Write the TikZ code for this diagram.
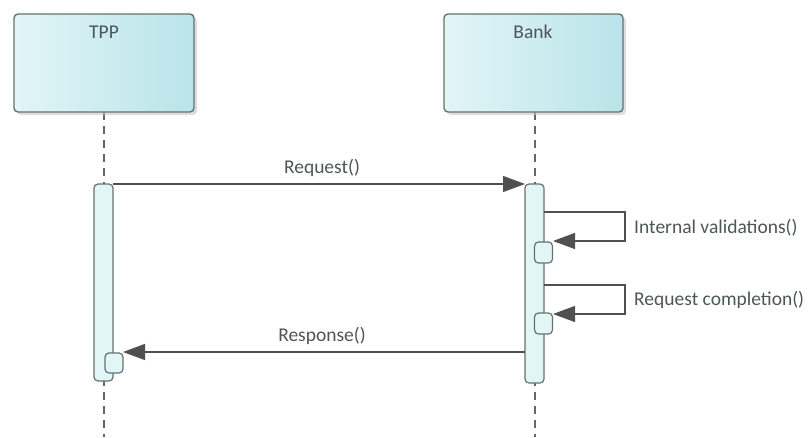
\documentclass[tikz,border=0pt]{standalone}
\usepackage{fontspec}
\setmainfont{Carlito}
\usetikzlibrary{arrows.meta,shadows}
\definecolor{boxl}{HTML}{E2F5F7}
\definecolor{boxr}{HTML}{B9E4E9}
\definecolor{edge}{HTML}{66716F}
\definecolor{txt}{HTML}{4E5658}
\definecolor{arr}{HTML}{505050}
\tikzset{
  x=1pt,y=-1pt,
  lifebox/.style={draw=edge,line width=1.4pt,rounded corners=4pt,left color=boxl,right color=boxr,
    drop shadow={shadow xshift=3pt,shadow yshift=-3pt,fill=gray!45,opacity=0.6}},
  actbox/.style={draw=edge,line width=1.2pt,rounded corners=4pt,fill=boxl},
  lifeline/.style={draw=gray!80!black,line width=1.2pt,dash pattern=on 8pt off 6pt},
  msg/.style={draw=arr,line width=1.2pt,-{Triangle[length=22pt,width=16pt]}},
  lbl/.style={text=txt,font=\fontsize{19.5}{22}\selectfont,inner sep=0pt},
}
\begin{document}
\begin{tikzpicture}
\useasboundingbox (0,0) rectangle (811,437);
% lifelines
\coordinate (tppb) at (104,112);
\coordinate (tppe) at (104,437);
\coordinate (bankb) at (535,112);
\coordinate (banke) at (535,437);
\draw[lifeline] (tppb) -- (tppe);
\draw[lifeline] (bankb) -- (banke);
% header boxes
\path[lifebox] (14,14) rectangle (194,112);
\path[lifebox] (444,14) rectangle (623,112);
\node[lbl] (tpp) at (104,32) {TPP};
\node[lbl] (bank) at (533,32) {Bank};
% activations
\draw[actbox] (94,184) rectangle (113,381);
\node[actbox,minimum width=18pt,minimum height=20pt,inner sep=0pt] (tppa) at (114,363) {};
\draw[actbox] (525,184) rectangle (544,383);
\node[actbox,minimum width=18pt,minimum height=21pt,inner sep=0pt] (ba1) at (543.5,252.5) {};
\node[actbox,minimum width=18pt,minimum height=21pt,inner sep=0pt] (ba2) at (543.5,323.5) {};
% messages
\coordinate (r1) at (113,184);
\coordinate (r2) at (525,184);
\draw[msg] (r1) -- (r2);
\node[lbl] (reql) at (322,168) {Request()};
\coordinate (s1a) at (544,212);
\coordinate (s1b) at (625,212);
\coordinate (s1c) at (625,241);
\coordinate (s1d) at (553,241);
\draw[msg] (s1a) -- (s1b) -- (s1c) -- (s1d);
\node[lbl,anchor=west] (ivl) at (634,228) {Internal validations()};
\coordinate (s2a) at (544,285);
\coordinate (s2b) at (625,285);
\coordinate (s2c) at (625,314);
\coordinate (s2d) at (553,314);
\draw[msg] (s2a) -- (s2b) -- (s2c) -- (s2d);
\node[lbl,anchor=west] (rcl) at (634,300) {Request completion()};
\coordinate (p1) at (525,352);
\coordinate (p2) at (123,352);
\draw[msg] (p1) -- (p2);
\node[lbl] (resl) at (322,336) {Response()};
\end{tikzpicture}
\end{document}
